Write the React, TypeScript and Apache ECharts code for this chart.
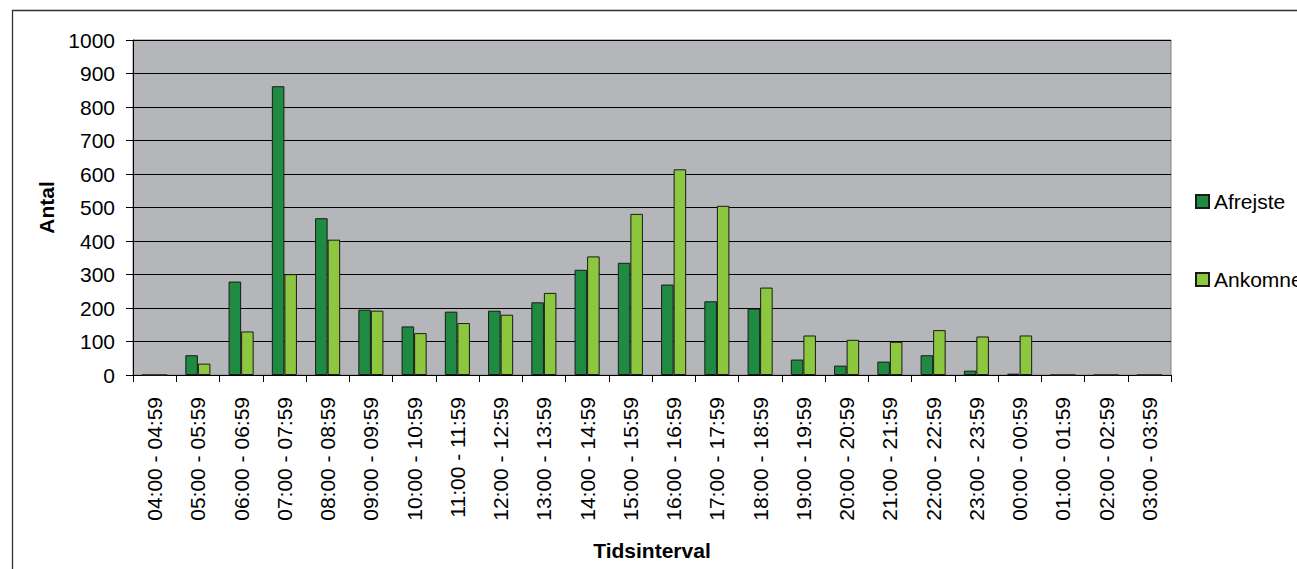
import React, { useEffect, useRef } from "react";
import * as echarts from "echarts";

const categories = [
  "04:00 - 04:59", "05:00 - 05:59", "06:00 - 06:59", "07:00 - 07:59",
  "08:00 - 08:59", "09:00 - 09:59", "10:00 - 10:59", "11:00 - 11:59",
  "12:00 - 12:59", "13:00 - 13:59", "14:00 - 14:59", "15:00 - 15:59",
  "16:00 - 16:59", "17:00 - 17:59", "18:00 - 18:59", "19:00 - 19:59",
  "20:00 - 20:59", "21:00 - 21:59", "22:00 - 22:59", "23:00 - 23:59",
  "00:00 - 00:59", "01:00 - 01:59", "02:00 - 02:59", "03:00 - 03:59",
];

const afrejste = [0, 59, 279, 862, 468, 195, 145, 189, 192, 217, 314, 335, 270, 220, 198, 46, 28, 40, 59, 13, 4, 0, 0, 0];
const ankomne = [0, 34, 130, 301, 404, 192, 125, 155, 180, 245, 354, 481, 614, 505, 261, 118, 105, 99, 134, 115, 118, 0, 0, 0];

const yTicks = { min: 0, max: 1000, interval: 100 };

const FONT = "'Liberation Sans', Arial, sans-serif";

export default function App() {
  const ref = useRef<HTMLDivElement>(null);

  useEffect(() => {
    if (!ref.current) return;
    const chart = echarts.init(ref.current, null, { renderer: "svg" });
    chart.setOption({
      animation: false,
      backgroundColor: "#ffffff",
      textStyle: { fontFamily: FONT },
      graphic: [
        {
          type: "rect",
          shape: { x: 12.5, y: 10.5, width: 1400, height: 700 },
          style: { fill: "none", stroke: "#333333", lineWidth: 1.3 },
          silent: true,
        },
      ],
      grid: {
        left: 133,
        right: 126,
        top: 40,
        bottom: 194,
        show: true,
        backgroundColor: "#b5b6ba",
        borderColor: "#808080",
        borderWidth: 1,
      },
      legend: {
        orient: "vertical",
        left: 1190,
        top: 186,
        itemWidth: 13,
        itemHeight: 13,
        itemGap: 57,
        icon: "rect",
        textStyle: { fontSize: 21, color: "#000", fontFamily: FONT, lineHeight: 21 },
        data: ["Afrejste", "Ankomne"],
      },
      xAxis: {
        type: "category",
        data: categories,
        name: "Tidsinterval",
        nameLocation: "middle",
        nameGap: 165,
        nameTextStyle: { fontSize: 21, fontWeight: "bold", color: "#000", fontFamily: FONT },
        axisLine: { lineStyle: { color: "#000", width: 1 } },
        axisTick: { show: true, length: 7, lineStyle: { color: "#000" } },
        axisLabel: {
          rotate: 90,
          margin: 22,
          fontSize: 21,
          color: "#000",
          fontFamily: FONT,
          interval: 0,
        },
        splitLine: { show: false },
      },
      yAxis: {
        type: "value",
        min: yTicks.min,
        max: yTicks.max,
        interval: yTicks.interval,
        name: "Antal",
        nameLocation: "middle",
        nameGap: 76,
        nameRotate: 90,
        nameTextStyle: { fontSize: 21, fontWeight: "bold", color: "#000", fontFamily: FONT },
        axisLine: { show: true, lineStyle: { color: "#000", width: 1 } },
        axisTick: { show: true, length: 7, lineStyle: { color: "#000" } },
        axisLabel: {
          margin: 18,
          fontSize: 21,
          color: "#000",
          fontFamily: FONT,
          formatter: (v: number) => String(v),
        },
        splitLine: { show: true, lineStyle: { color: "#000", width: 1 } },
      },
      series: [
        {
          name: "Afrejste",
          type: "bar",
          data: afrejste,
          barGap: "0%",
          barCategoryGap: "42%",
          itemStyle: { color: "#1f8a42", borderColor: "#1a1a1a", borderWidth: 1 },
        },
        {
          name: "Ankomne",
          type: "bar",
          data: ankomne,
          barGap: "0%",
          barCategoryGap: "42%",
          itemStyle: { color: "#8dc63f", borderColor: "#1a1a1a", borderWidth: 1 },
        },
      ],
    });
    return () => chart.dispose();
  }, []);

  return (
    <div
      ref={ref}
      style={{ position: "fixed", left: 0, top: 0, width: 1297, height: 569 }}
    />
  );
}
